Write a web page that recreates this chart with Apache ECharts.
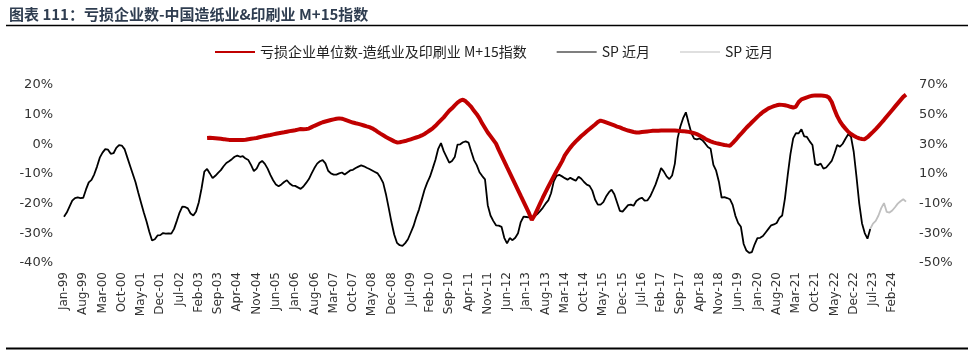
<!DOCTYPE html>
<html>
<head>
<meta charset="utf-8">
<script src="https://cdn.jsdelivr.net/npm/echarts@6/dist/echarts.min.js"></script>
<style>
  html, body { margin: 0; padding: 0; background: #fff; }
  #chart { width: 975px; height: 352px; }
</style>
</head>
<body>
<div id="chart"></div>
<script>
// 月份：Jan-99 ... Jul-24
const months = ["Jan", "Feb", "Mar", "Apr", "May", "Jun", "Jul", "Aug", "Sep", "Oct", "Nov", "Dec"];
const categories = [];
for (let y = 1999; y <= 2024; y++) {
  for (let m = 0; m < 12; m++) {
    if (y === 2024 && m > 6) break;
    categories.push(months[m] + "-" + String(y % 100).padStart(2, "0"));
  }
}

// SP 近月 (左轴, %)，从 Jan-99 开始
const spNear = [
  -24.4, -23.0, -21.0, -19.0, -18.1, -17.9, -18.1, -18.0, -15.2, -12.8,
  -12.0, -10.1, -7.5, -4.5, -2.8, -1.6, -1.8, -3.2, -3.0, -1.2,
  -0.3, -0.4, -1.6, -4.4, -7.2, -10.0, -12.8, -16.3, -19.7, -23.0,
  -26.0, -29.5, -32.4, -32.0, -30.7, -30.6, -29.9, -30.1, -30.0, -30.1,
  -28.5, -25.8, -23.0, -21.0, -21.1, -21.6, -23.3, -24.0, -22.6, -19.5,
  -14.8, -9.2, -8.3, -9.8, -11.4, -10.6, -9.6, -8.7, -7.4, -6.3,
  -5.7, -5.0, -4.2, -3.8, -4.2, -4.0, -4.8, -5.3, -7.0, -9.0,
  -8.2, -6.3, -5.6, -6.6, -8.2, -10.3, -12.1, -13.5, -14.1, -13.5,
  -12.7, -12.1, -13.2, -13.9, -14.0, -14.5, -15.0, -14.2, -13.0, -11.7,
  -9.8, -8.0, -6.5, -5.7, -5.3, -6.4, -8.9, -9.8, -10.2, -10.2,
  -9.8, -9.5, -10.2, -9.5, -8.8, -8.6, -8.0, -7.5, -7.1, -7.4,
  -7.9, -8.3, -8.8, -9.3, -9.8, -11.2, -13.0, -16.8, -21.4, -26.2,
  -30.4, -33.2, -34.0, -34.2, -33.3, -32.0, -29.8, -27.6, -24.6, -22.0,
  -18.7, -15.4, -12.9, -10.9, -8.1, -5.2, -1.5, 0.4, -2.3, -4.2,
  -6.2, -5.6, -4.3, -0.1, 0.0, 0.7, 1.0, 0.6, -2.4, -5.3,
  -7.0, -9.4, -10.7, -11.8, -20.5, -24.0, -25.8, -27.3, -27.4, -27.8,
  -31.5, -33.4, -31.6, -32.3, -31.5, -30.0, -26.2, -24.4, -24.5, -24.6,
  -24.6, -24.3, -23.5, -22.5, -21.4, -20.0, -18.9, -16.5, -12.5, -10.6,
  -10.3, -10.8, -11.4, -11.9, -11.3, -11.8, -12.3, -10.9, -11.6, -12.7,
  -13.6, -14.0, -15.6, -18.6, -20.3, -20.3, -19.5, -17.6, -16.2, -15.3,
  -16.8, -19.6, -22.4, -22.7, -21.6, -20.5, -20.3, -20.7, -19.1, -18.4,
  -18.0, -19.0, -18.9, -17.6, -15.6, -13.5, -10.8, -8.0, -9.2, -10.8,
  -11.7, -10.5, -6.5, 2.0, 6.0, 8.8, 10.8, 7.2, 3.8, 1.9,
  1.7, 2.0, 1.4, 0.3, -0.9, -1.5, -6.9, -8.9, -12.6, -18.0,
  -17.8, -18.1, -18.5, -20.4, -24.1, -26.5, -27.8, -33.6, -35.8, -36.6,
  -36.3, -33.7, -31.6, -31.5, -30.9, -29.7, -28.5, -27.3, -27.0, -26.5,
  -24.8, -24.0, -18.3, -10.5, -3.3, 2.0, 3.8, 3.7, 5.1, 2.7,
  2.5, 1.0, -0.2, -6.7, -7.0, -6.5, -8.2, -7.8, -6.7, -5.6,
  -3.1, -0.2, -0.8, 0.2, 1.9, 3.4, 2.6, -2.5, -10.9, -19.9,
  -26.6, -29.9, -31.8, -28.5
];

// SP 远月 (左轴, %)，从 Jun-23 开始
const spFarStart = 293;
const spFar = [
  -28.5, -26.7, -25.8, -24.0, -21.5, -19.8, -22.8, -23.0, -22.3, -21.2,
  -20.0, -19.2, -18.5, -19.3
];

// 亏损企业单位数 M+15指数 (右轴, %)，从 May-03 开始
const lossStart = 52;
const lossIndex = [
  34.3, 34.4, 34.3, 34.1, 33.9, 33.7, 33.5, 33.2, 33.0, 32.9,
  32.9, 32.9, 33.0, 33.0, 33.1, 33.4, 33.7, 34.0, 34.3, 34.8,
  35.2, 35.6, 36.0, 36.3, 36.7, 37.1, 37.5, 37.8, 38.1, 38.5,
  38.9, 39.2, 39.5, 39.9, 40.3, 40.2, 40.3, 40.6, 41.6, 42.5,
  43.3, 44.1, 44.9, 45.4, 45.9, 46.4, 46.8, 47.2, 47.5, 47.3,
  46.7, 46.0, 45.3, 44.7, 44.2, 43.8, 43.3, 42.7, 42.1, 41.6,
  40.8, 39.7, 38.4, 37.2, 36.1, 35.0, 34.0, 33.0, 32.0, 31.3,
  31.4, 31.8, 32.2, 32.8, 33.4, 34.0, 34.6, 35.2, 36.0, 37.0,
  38.2, 39.5, 40.8, 42.5, 44.4, 46.3, 48.2, 50.4, 52.6, 54.3,
  56.3, 58.1, 59.4, 60.1, 59.0, 57.2, 55.2, 52.6, 50.3, 47.5,
  44.0, 41.0, 38.0, 35.5, 33.0, 30.5, 26.3, 22.4, 18.5, 14.6,
  10.8, 6.9, 3.0, -0.9, -4.8, -8.6, -12.5, -16.4, -21.0, -18.0,
  -14.0, -10.0, -6.0, -2.2, 1.5, 5.0, 8.5, 12.0, 15.2, 18.5,
  22.5, 25.2, 27.8, 30.0, 32.0, 33.8, 35.6, 37.2, 38.8, 40.3,
  41.9, 43.4, 45.0, 46.0, 45.5, 44.8, 44.1, 43.4, 42.7, 42.0,
  41.4, 40.6, 39.9, 39.3, 38.8, 38.3, 38.0, 38.0, 38.3, 38.5,
  38.7, 38.9, 39.1, 39.2, 39.2, 39.3, 39.4, 39.4, 39.4, 39.4,
  39.3, 39.2, 39.0, 38.9, 38.7, 38.4, 38.0, 37.5, 36.9, 36.0,
  35.0, 33.8, 32.8, 32.0, 31.3, 30.8, 30.4, 30.0, 29.6, 29.3,
  29.1, 30.8, 32.8, 35.0, 37.0, 39.1, 41.2, 43.0, 44.9, 46.7,
  48.5, 50.2, 51.8, 53.0, 54.2, 55.0, 55.7, 56.3, 56.7, 56.6,
  56.3, 55.9, 55.3, 54.8, 55.5, 58.5, 60.3, 61.0, 61.7, 62.3,
  62.8, 63.0, 63.0, 63.0, 62.8, 62.5, 61.5, 58.5, 53.5, 49.0,
  45.5, 42.8, 40.6, 38.5, 37.0, 35.8, 34.8, 34.0, 33.6, 33.5,
  34.8, 36.6, 38.4, 40.3, 42.3, 44.4, 46.5, 48.8, 51.0, 53.2,
  55.4, 57.6, 59.8, 62.0, 63.5
];

const leftTicks = { min: -40, max: 20, interval: 10 };
const rightTicks = { min: -50, max: 70, interval: 20 };

function pad(start, arr) {
  return new Array(start).fill(null).concat(arr);
}

const font = "DejaVu Sans";
const chart = echarts.init(document.getElementById("chart"));

chart.setOption({
  animation: false,
  title: {
    text: "图表 111：亏损企业数-中国造纸业&印刷业 M+15指数",
    left: 4,
    top: 2,
    textStyle: {
      fontFamily: "Noto Sans CJK SC",
      fontSize: 15,
      fontWeight: "bold",
      color: "#2f3d50",
    },
  },
  graphic: [
    { type: "line", shape: { x1: 6, y1: 25.5, x2: 968, y2: 25.5 }, style: { stroke: "#000", lineWidth: 1.5 } },
    { type: "line", shape: { x1: 6, y1: 348.5, x2: 968, y2: 348.5 }, style: { stroke: "#000", lineWidth: 2 } },
  ],
  legend: {
    top: 40,
    left: 210,
    itemWidth: 40,
    itemHeight: 10,
    itemGap: 30,
    textStyle: { fontFamily: "Noto Sans CJK SC", fontSize: 14, color: "#222" },
    data: [
      { name: "亏损企业单位数-造纸业及印刷业 M+15指数", icon: "path://M0,4 L40,4 L40,6 L0,6 Z" },
      { name: "SP 近月", icon: "path://M0,4.6 L40,4.6 L40,5.4 L0,5.4 Z" },
      { name: "SP 远月", icon: "path://M0,4.6 L40,4.6 L40,5.4 L0,5.4 Z" },
    ],
  },
  grid: { left: 64, right: 69, top: 85, bottom: 89 },
  xAxis: {
    type: "category",
    data: categories,
    boundaryGap: false,
    axisLine: { show: false },
    axisTick: { show: false },
    axisLabel: {
      interval: 6,
      rotate: 90,
      margin: 9,
      fontFamily: font,
      fontSize: 12,
      color: "#333",
    },
  },
  yAxis: [
    {
      type: "value",
      min: leftTicks.min,
      max: leftTicks.max,
      interval: leftTicks.interval,
      splitLine: { show: false },
      axisLine: { show: false },
      axisTick: { show: false },
      axisLabel: { formatter: "{value}%", margin: 11, fontFamily: font, fontSize: 13, color: "#333" },
    },
    {
      type: "value",
      min: rightTicks.min,
      max: rightTicks.max,
      interval: rightTicks.interval,
      splitLine: { show: false },
      axisLine: { show: false },
      axisTick: { show: false },
      axisLabel: { formatter: "{value}%", margin: 13, fontFamily: font, fontSize: 13, color: "#333" },
    },
  ],
  series: [
    {
      name: "亏损企业单位数-造纸业及印刷业 M+15指数",
      type: "line",
      yAxisIndex: 1,
      data: pad(lossStart, lossIndex),
      showSymbol: false,
      lineStyle: { width: 4, color: "#c00000" },
      itemStyle: { color: "#c00000" },
      z: 3,
    },
    {
      name: "SP 近月",
      type: "line",
      yAxisIndex: 0,
      data: spNear,
      showSymbol: false,
      lineStyle: { width: 1.8, color: "#000" },
      itemStyle: { color: "#000" },
      z: 2,
    },
    {
      name: "SP 远月",
      type: "line",
      yAxisIndex: 0,
      data: pad(spFarStart, spFar),
      showSymbol: false,
      lineStyle: { width: 1.8, color: "#bfbfbf" },
      itemStyle: { color: "#bfbfbf" },
      z: 2,
    },
  ],
});
</script>
</body>
</html>
